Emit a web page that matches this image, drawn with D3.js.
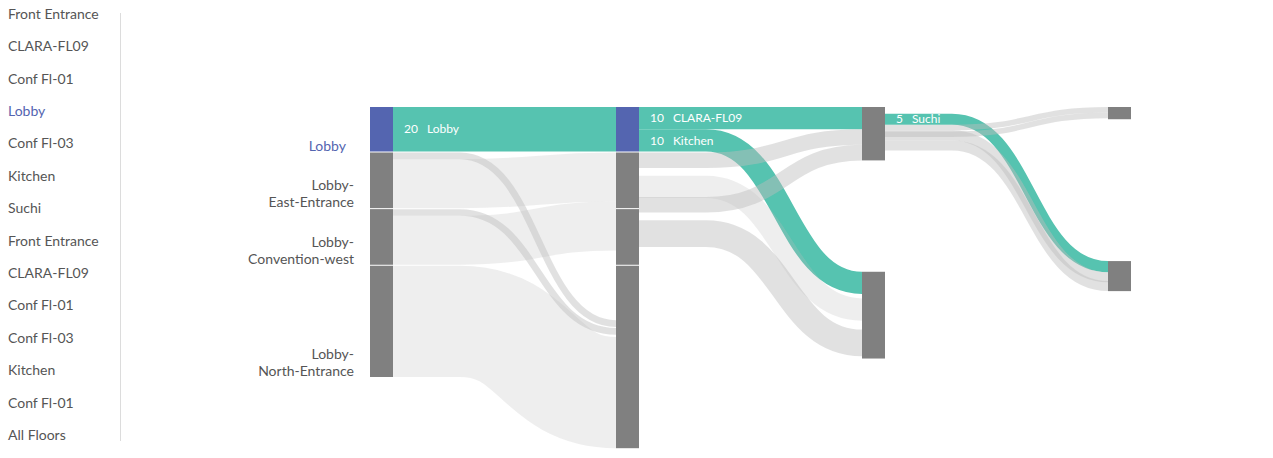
<!DOCTYPE html>
<html>
<head>
<meta charset="utf-8">
<script src="https://cdn.jsdelivr.net/npm/d3@7/dist/d3.min.js"></script>
<style>
  body { margin: 0; background: #fff; }
  svg { font-family: Lato, "Open Sans", sans-serif; }
</style>
</head>
<body>
<div id="chart"></div>
<script>
// locations in the side list
const floorList = [
  "Front Entrance", "CLARA-FL09", "Conf Fl-01", "Lobby", "Conf Fl-03", "Kitchen", "Suchi",
  "Front Entrance", "CLARA-FL09", "Conf Fl-01", "Conf Fl-03", "Kitchen", "Conf Fl-01", "All Floors"
];
const selected = "Lobby";

// nodes per step, with visitor counts
const step0 = ["Lobby", "Lobby-East-Entrance", "Lobby-Convention-west", "Lobby-North-Entrance"];
const step0Values = [20, 25, 25, 50];
const step1 = ["Lobby", "Front Entrance", "Conf Fl-01", "Conf Fl-03"];
const step1Values = [20, 25, 25, 82];
const step2 = ["CLARA-FL09", "Kitchen"];
const step2Values = [24, 39];
const step3 = ["Front Entrance", "Suchi"];
const step3Values = [5.5, 13.5];

// flows: visitors, and where they leave / enter the node (in visitors from its top)
const flows = [
  { source: "0:Lobby", target: "1:Lobby", value: 20, sy: 0, ty: 0, sel: true },
  { source: "0:Lobby-East-Entrance", target: "1:Front Entrance", value: 22, sy: 3, ty: 0 },
  { source: "0:Lobby-Convention-west", target: "1:Front Entrance", value: 22, sy: 3, ty: 22 },
  { source: "0:Lobby-North-Entrance", target: "1:Conf Fl-03", value: 50, sy: 0, ty: 32 },
  { source: "0:Lobby-East-Entrance", target: "1:Conf Fl-03", value: 3, sy: 0, ty: 24.5 },
  { source: "0:Lobby-Convention-west", target: "1:Conf Fl-03", value: 3, sy: 0, ty: 28 },

  { source: "1:Lobby", target: "2:CLARA-FL09", value: 10, sy: 0, ty: 0, sel: true },
  { source: "1:Lobby", target: "2:Kitchen", value: 10, sy: 10, ty: 0, sel: true },
  { source: "1:Front Entrance", target: "2:CLARA-FL09", value: 7, sy: 0, ty: 10 },
  { source: "1:Front Entrance", target: "2:Kitchen", value: 10, sy: 10.5, ty: 12 },
  { source: "1:Front Entrance", target: "2:CLARA-FL09", value: 7, sy: 20, ty: 17 },
  { source: "1:Conf Fl-01", target: "2:Kitchen", value: 12, sy: 5, ty: 26 },

  { source: "2:CLARA-FL09", target: "3:Suchi", value: 5, sy: 3, ty: 0, sel: true },
  { source: "2:CLARA-FL09", target: "3:Front Entrance", value: 2.5, sy: 8, ty: 0 },
  { source: "2:CLARA-FL09", target: "3:Front Entrance", value: 2.5, sy: 11, ty: 2.5 },
  { source: "2:CLARA-FL09", target: "3:Suchi", value: 4.5, sy: 10.5, ty: 5 },
  { source: "2:CLARA-FL09", target: "3:Suchi", value: 4.5, sy: 15, ty: 9 }
];

const steps = [step0, step1, step2, step3];
const stepValues = [step0Values, step1Values, step2Values, step3Values];

const WIDTH = 1273, HEIGHT = 458;
const TOP = 107, NODE_W = 23, PAD = 1;
const BLUE = "#5465b0", TEAL = "#56c3b0", NODE_GRAY = "#808080", TEXT = "#555";
// empty space kept above some nodes (in visitors)
const gapBefore = { "2:Kitchen": 49.6, "3:Suchi": 63.3 };

const svg = d3.select("#chart")
  .append("svg")
  .attr("width", WIDTH)
  .attr("height", HEIGHT);

// Side list
const sideY = d3.scalePoint().domain(d3.range(floorList.length)).range([14, 435]);
svg.append("line")
  .attr("x1", 120.5).attr("x2", 120.5)
  .attr("y1", 13).attr("y2", 441)
  .attr("stroke", "#dcdcdc");
svg.append("g")
  .selectAll("text")
  .data(floorList)
  .join("text")
  .attr("x", 8)
  .attr("y", (d, i) => sideY(i))
  .attr("dy", "0.35em")
  .attr("font-size", 14)
  .attr("fill", d => d === selected ? BLUE : TEXT)
  .text(d => d);

// Scales
const x = d3.scaleLinear().domain([0, 3]).range([370, 1108]);
const h = d3.scaleLinear().domain([0, 120]).range([0, 267]);

const nodes = [];
steps.forEach((names, s) => {
  let acc = 0;
  names.forEach((name, i) => {
    const id = `${s}:${name}`;
    acc += gapBefore[id] || 0;
    const y0 = TOP + h(acc) + i * PAD;
    const v = stepValues[s][i];
    acc += v;
    nodes.push({ id, name, step: s, value: v, x0: x(s), y0, y1: y0 + h(v) });
  });
});
const byId = new Map(nodes.map(n => [n.id, n]));

function ends(d) {
  const s = byId.get(d.source), t = byId.get(d.target);
  return {
    x0: s.x0 + NODE_W,
    x1: t.x0,
    y0: s.y0 + h(d.sy + d.value / 2),
    y1: t.y0 + h(d.ty + d.value / 2)
  };
}

function flowPath(d) {
  const e = ends(d);
  const xa = e.x0 + (e.x1 - e.x0) * 0.3;
  const xm = (xa + e.x1) / 2;
  const p = d3.path();
  p.moveTo(e.x0, e.y0);
  p.lineTo(xa, e.y0);
  p.bezierCurveTo(xm, e.y0, xm, e.y1, e.x1, e.y1);
  return p.toString();
}

const faint = new Set(["1:Front Entrance>2:Kitchen"]);
const grayOpacity = d => (d.value >= 20 || faint.has(`${d.source}>${d.target}`)) ? 0.26 : 0.45;

// selected journey first, other flows lie over it
svg.append("g")
  .attr("fill", "none")
  .selectAll("path")
  .data(flows.filter(d => d.sel))
  .join("path")
  .attr("d", flowPath)
  .attr("stroke", TEAL)
  .attr("stroke-width", d => h(d.value));

svg.append("g")
  .attr("fill", "none")
  .selectAll("path")
  .data(flows.filter(d => !d.sel))
  .join("path")
  .attr("d", flowPath)
  .attr("stroke", "#bdbdbd")
  .attr("stroke-opacity", grayOpacity)
  .attr("stroke-width", d => h(d.value));

// Nodes
svg.append("g")
  .selectAll("rect")
  .data(nodes)
  .join("rect")
  .attr("x", d => d.x0)
  .attr("y", d => d.y0)
  .attr("width", NODE_W)
  .attr("height", d => d.y1 - d.y0)
  .attr("fill", d => d.name === selected && d.step < 2 ? BLUE : NODE_GRAY);

// Labels of the first step
const labels = svg.append("g")
  .selectAll("text")
  .data(nodes.filter(d => d.step === 0))
  .join("text")
  .attr("text-anchor", "end")
  .attr("font-size", 14)
  .attr("fill", d => d.name === selected ? BLUE : TEXT)
  .attr("transform", d => `translate(${d.x0 - (d.name === selected ? 24 : 16)},${d.y1 - 1})`);

labels.each(function (d) {
  const cut = d.name.indexOf("-");
  const lines = cut < 0 ? [d.name] : [d.name.slice(0, cut + 1), d.name.slice(cut + 1)];
  lines.forEach((line, i) => {
    d3.select(this).append("tspan")
      .attr("x", 0)
      .attr("y", (i - (lines.length - 1)) * 17)
      .text(line);
  });
});

// Flow labels on the selected journey
const flowLabels = svg.append("g")
  .selectAll("text")
  .data(flows.filter(d => d.sel))
  .join("text")
  .attr("x", d => ends(d).x0 + 11)
  .attr("y", d => ends(d).y0)
  .attr("dy", "0.35em")
  .attr("font-size", 12)
  .attr("fill", "#fff");

flowLabels.append("tspan").text(d => d.value);
flowLabels.append("tspan").attr("dx", 9).text(d => byId.get(d.target).name);
</script>
</body>
</html>
